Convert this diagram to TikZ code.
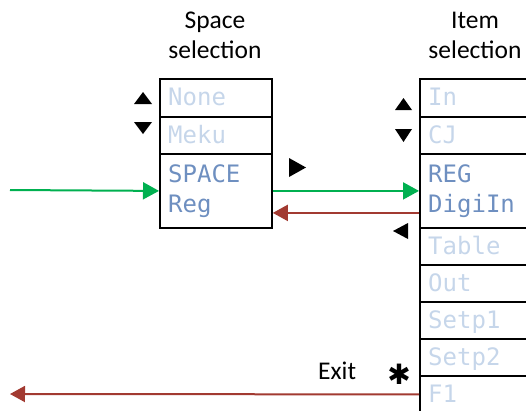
\documentclass[tikz,border=0pt]{standalone}
\usepackage{fontspec}
\setmainfont{Carlito}
\newfontfamily\cellfont{DejaVu Sans Mono}
\newfontfamily\symfont{DejaVu Sans}
\usetikzlibrary{arrows.meta}
\definecolor{activetxt}{HTML}{6E8FC0}
\definecolor{idletxt}{HTML}{C6D6EA}
\definecolor{okgreen}{HTML}{00B050}
\definecolor{backred}{HTML}{A23A31}
\begin{document}
\begin{tikzpicture}[x=1pt,y=-1pt,
  cell/.style={draw=black, line width=1.8pt, anchor=north west, inner sep=0pt},
  spacecell/.style={cell, minimum width=112pt},
  itemcell/.style={cell, minimum width=130pt},
  celltext/.style={anchor=base west, inner sep=0pt, font=\cellfont\fontsize{24}{30}\selectfont},
  idle/.style={celltext, text=idletxt},
  active/.style={celltext, text=activetxt},
  title/.style={anchor=south, inner sep=0pt, align=center, font=\fontsize{25.5}{30}\selectfont},
  pointer/.style={fill=black},
  enter/.style={draw=okgreen, line width=2pt, -{Triangle[length=16pt,width=17pt]}},
  leave/.style={draw=backred, line width=2pt, -{Triangle[length=15pt,width=16pt]}}]
\clip (0,0) rectangle (526,410);

% column titles
\node[title] (spaceTitle) at (215,59) {Space\\selection};
\node[title] (itemTitle) at (475,59) {Item\\selection};

% space selection list
\node[spacecell, minimum height=38pt] (sNone) at (159,78) {};
\node[spacecell, minimum height=37pt] (sMeku) at (159,116) {};
\node[spacecell, minimum height=74pt] (sReg) at (159,153) {};
\node[idle] (tNone) at ([shift={(9,8)}]sNone.west) {None};
\node[idle] (tMeku) at ([shift={(9,8)}]sMeku.west) {Meku};
\node[active] (tSpace) at ([shift={(9,-8)}]sReg.west) {SPACE};
\node[active] (tReg) at ([shift={(9,22)}]sReg.west) {Reg};

% item selection list
\node[itemcell, minimum height=38pt] (iIn) at (419,78) {};
\node[itemcell, minimum height=37pt] (iCJ) at (419,116) {};
\node[itemcell, minimum height=74pt] (iReg) at (419,153) {};
\node[itemcell, minimum height=37pt] (iTable) at (419,227) {};
\node[itemcell, minimum height=37pt] (iOut) at (419,264) {};
\node[itemcell, minimum height=37pt] (iSetpA) at (419,301) {};
\node[itemcell, minimum height=37pt] (iSetpB) at (419,338) {};
\node[itemcell, minimum height=37pt] (iF) at (419,375) {};
\node[idle] (tIn) at ([shift={(9,8)}]iIn.west) {In};
\node[idle] (tCJ) at ([shift={(9,8)}]iCJ.west) {CJ};
\node[active] (tREG) at ([shift={(9,-8)}]iReg.west) {REG};
\node[active] (tDigi) at ([shift={(9,22)}]iReg.west) {DigiIn};
\node[idle] (tTable) at ([shift={(9,8)}]iTable.west) {Table};
\node[idle] (tOut) at ([shift={(9,8)}]iOut.west) {Out};
\node[idle] (tSetpA) at ([shift={(9,8)}]iSetpA.west) {Setp1};
\node[idle] (tSetpB) at ([shift={(9,8)}]iSetpB.west) {Setp2};
\node[idle] (tF) at ([shift={(9,8)}]iF.west) {F1};

% key hints
\fill[pointer] (134,104) -- (152,104) -- (143,92) -- cycle;
\fill[pointer] (134,122) -- (152,122) -- (143,134) -- cycle;
\fill[pointer] (395,110) -- (412,110) -- (403.5,98) -- cycle;
\fill[pointer] (395,129) -- (412,129) -- (403.5,142) -- cycle;
\fill[pointer] (289,158) -- (289,177) -- (306,167.5) -- cycle;
\fill[pointer] (408,223) -- (408,239) -- (393,231) -- cycle;
\node[anchor=base west, inner sep=0pt, font=\fontsize{25.5}{30}\selectfont] (exitLabel) at (318,379) {Exit};
\node[inner sep=0pt, font=\symfont\fontsize{28}{28}\selectfont] (exitKey) at (399,374) {✱};

% flow between the lists
\coordinate (inStart) at (10,190);
\coordinate (outEnd) at (10,394);
\draw[enter] (inStart) -- (sReg.west);
\draw[enter] (sReg.east) -- (iReg.west);
\draw[leave] ([shift={(0,22)}]iReg.west) -- ([shift={(0,22)}]sReg.east);
\draw[leave] (iF.west) -- (outEnd);
\end{tikzpicture}
\end{document}
